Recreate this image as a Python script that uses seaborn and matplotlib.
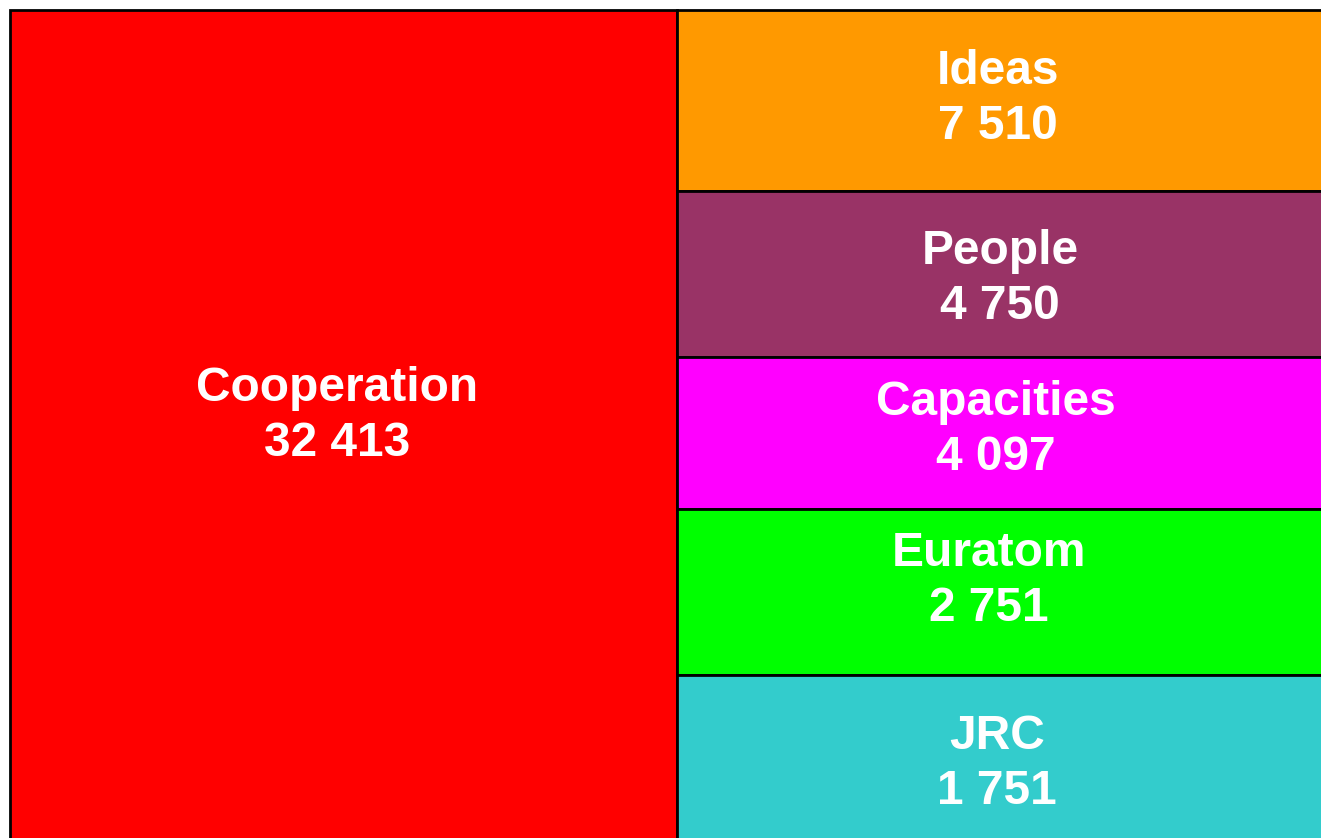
import numpy as np
import pandas as pd
import matplotlib
matplotlib.use("Agg")
import matplotlib.pyplot as plt
import seaborn as sns

# data
programmes = ["Cooperation", "Ideas", "People", "Capacities", "Euratom", "JRC"]
budget = [32413, 7510, 4750, 4097, 2751, 1751]
colours = ["#FF0000", "#FF9900", "#993366", "#FF00FF", "#00FF00", "#33CCCC"]

# tile layout in pixel units (not proportional in the original)
x_edges = [[10, 677], [677, 1335], [677, 1335], [677, 1335], [677, 1335], [677, 1335]]
y_edges = [[10, 850], [10, 191], [191, 357], [357, 509], [509, 675], [675, 850]]
label_y = [416, 99, 279, 430, 581, 764]
label_x = [337, 998, 1000, 996, 989, 997]

df = pd.DataFrame({"programme": programmes, "budget": budget, "colour": colours})
df["x0"] = [e[0] for e in x_edges]
df["x1"] = [e[1] for e in x_edges]
df["y0"] = [e[0] for e in y_edges]
df["y1"] = [e[1] for e in y_edges]

sns.set_style("white")
plt.rcParams["font.family"] = ["Liberation Sans", "DejaVu Sans"]

fig = plt.figure(figsize=(13.21, 8.38), dpi=100)
ax = fig.add_axes([0, 0, 1, 1])

ax.bar(x=df["x0"], height=df["y1"] - df["y0"], width=df["x1"] - df["x0"], bottom=df["y0"],
       align="edge", color=df["colour"], edgecolor="black", linewidth=2)

for i, row in df.iterrows():
    txt = row["programme"] + "\n" + f"{row['budget']:,}".replace(",", " ")
    ax.text(label_x[i], label_y[i], txt, ha="center", va="center", color="white",
            fontsize=34.5, fontweight="bold", linespacing=1.3)

ax.set_xlim(0, 1321)
ax.set_ylim(838, 0)
ax.axis("off")

fig.savefig("out.png", dpi=100)
